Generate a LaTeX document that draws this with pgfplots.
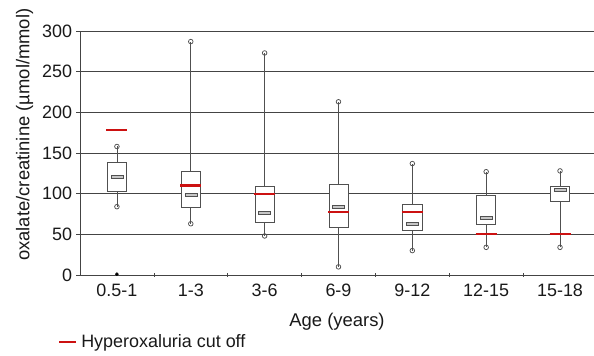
\documentclass[border=0pt]{standalone}
\usepackage{pgfplots}
\pgfplotsset{compat=1.18}
\usepackage{fontspec}
\setmainfont{Liberation Sans}
\definecolor{boxgray}{HTML}{505050}
\definecolor{gridgray}{HTML}{444444}
\definecolor{cutred}{HTML}{CC1111}
\pgfdeclareplotmark{medbar}{\pgfpathrectangle{\pgfpoint{-6bp}{-1.5bp}}{\pgfpoint{12bp}{3bp}}\pgfusepathqfillstroke}
\pgfdeclareplotmark{cut}{\pgfpathmoveto{\pgfpoint{-10.5bp}{0bp}}\pgfpathlineto{\pgfpoint{10.5bp}{0bp}}\pgfusepathqstroke}
\pgfplotsset{boxstyle/.style={draw=boxgray, fill=white, line width=0.75pt, forget plot}}
\begin{document}
\begin{tikzpicture}
\begin{axis}[
  name=ax,
  scale only axis,
  width=514bp, height=244bp,
  xmin=-0.5, xmax=6.46,
  ymin=0, ymax=300,
  ytick={0,50,...,300},
  xtick={0,...,6},
  xticklabels={0.5-1,1-3,3-6,6-9,9-12,12-15,15-18},
  minor xtick={0.5,1.5,...,5.5},
  major x tick style={draw=none},
  minor x tick style={yshift=2.5bp},
  tick align=outside,
  major tick length=3.5bp, minor tick length=4bp,
  tick style={gridgray, line width=0.7pt},
  axis x line*=bottom, axis y line*=left,
  axis line style={gridgray, line width=0.9pt, -},
  ymajorgrids, grid style={gridgray, line width=0.9pt},
  ticklabel style={font=\fontsize{18}{20}\selectfont, text=black!90},
  /pgf/number format/assume math mode=true,
  xticklabel style={yshift=-2bp},
  yticklabel style={xshift=-1bp},
  xlabel={Age (years)},
  ylabel={oxalate/creatinine (\textmu mol/mmol)},
  label style={font=\fontsize{18.5}{20}\selectfont, text=black!90},
  xlabel style={yshift=-10bp},
  ylabel style={at={(ticklabel cs:0.575)}, yshift=2bp},
  legend style={at={(-0.043,-0.275)}, anchor=west, draw=none, fill=none, inner sep=0pt, font=\fontsize{18}{20}\selectfont, text=black!90, nodes={inner xsep=4bp}},
  legend image code/.code={\draw[cutred, line width=2.2pt] (-4bp,0bp) -- (13bp,0bp);},
  legend cell align=left,
  unbounded coords=jump,
]
% whiskers
\addplot[draw=boxgray, line width=0.75pt, forget plot] coordinates {
 (0,84)(0,158) (0,nan)
 (1,63)(1,287) (1,nan)
 (2,48)(2,273) (2,nan)
 (3,10)(3,213) (3,nan)
 (4,30)(4,137) (4,nan)
 (5,34)(5,127) (5,nan)
 (6,34)(6,128)};
% boxes (lower quartile to upper quartile)
\addplot[boxstyle] coordinates {(-0.13,103)(0.13,103)(0.13,139)(-0.13,139)} --cycle;
\addplot[boxstyle] coordinates {(0.87,83)(1.13,83)(1.13,128)(0.87,128)} --cycle;
\addplot[boxstyle] coordinates {(1.87,65)(2.13,65)(2.13,108.6)(1.87,108.6)} --cycle;
\addplot[boxstyle] coordinates {(2.87,59)(3.13,59)(3.13,112)(2.87,112)} --cycle;
\addplot[boxstyle] coordinates {(3.87,55)(4.13,55)(4.13,87)(3.87,87)} --cycle;
\addplot[boxstyle] coordinates {(4.87,62)(5.13,62)(5.13,97.5)(4.87,97.5)} --cycle;
\addplot[boxstyle] coordinates {(5.87,91)(6.13,91)(6.13,108.6)(5.87,108.6)} --cycle;
% medians
\addplot[only marks, mark=medbar, mark options={fill=gray!45, draw=boxgray, line width=0.5pt}, forget plot] coordinates {(0,121)(1,99)(2,77)(3,84)(4,63.5)(5,70)(6,104.5)};
% whisker end circles
\addplot[only marks, mark=o, mark size=2.3bp, mark options={draw=boxgray, fill=white, line width=0.75pt}, forget plot] coordinates {(0,84)(0,158)(1,63)(1,287)(2,48)(2,273)(3,10)(3,213)(4,30)(4,137)(5,34)(5,127)(6,34)(6,128)};
% point at zero
\addplot[only marks, mark=*, mark size=1.6bp, mark options={draw=black, fill=black}, forget plot] coordinates {(0,1)};
% cut offs
\addplot[only marks, mark=cut, mark options={draw=cutred, line width=2.2pt}] coordinates {(0,178)(1,110)(2,100)(3,77)(4,77)(5,50)(6,50)};
\addlegendentry{Hyperoxaluria cut off}
\end{axis}
\pgfresetboundingbox
\path ([xshift=-80bp,yshift=-81bp]ax.south west) rectangle ([yshift=31bp]ax.north east);
\end{tikzpicture}
\end{document}
